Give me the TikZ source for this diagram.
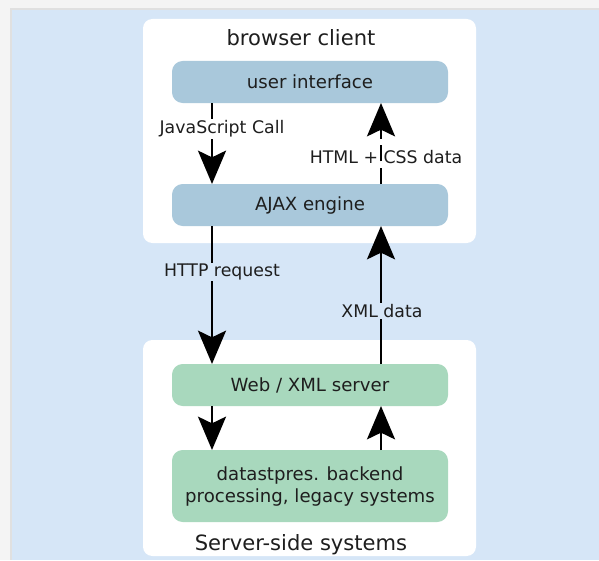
\documentclass[tikz,border=0pt]{standalone}
\usepackage{fontspec}
\setmainfont{DejaVu Sans}
\usetikzlibrary{arrows.meta,positioning}

\definecolor{pagegray}{HTML}{F4F4F4}
\definecolor{panelblue}{HTML}{D6E6F7}
\definecolor{clientbox}{HTML}{A9C8DB}
\definecolor{serverbox}{HTML}{A8D8BD}
\definecolor{ink}{HTML}{1E1E1E}

\tikzset{
  group/.style={fill=white, rounded corners=7pt, draw=none},
  layer/.style={rounded corners=8pt, draw=none, minimum width=207pt, text=ink,
    font=\fontsize{13.6}{16.5}\selectfont, align=center},
  clientlayer/.style={layer, fill=clientbox, minimum height=31.5pt},
  serverlayer/.style={layer, fill=serverbox},
  grouptitle/.style={text=ink, font=\fontsize{15.8}{18}\selectfont},
  flowlabel/.style={text=ink, font=\fontsize{13}{15}\selectfont, inner sep=1pt},
  flow/.style={line width=1.9pt, -{Stealth[length=25pt, width=21pt, inset=5pt]}}
}

\begin{document}
\begin{tikzpicture}[x=0.75pt, y=-0.75pt]
  % page and panel
  \fill[pagegray] (0,0) rectangle (599,560);
  \fill[black!12] (10,8) rectangle (599,560);
  \fill[panelblue] (12,10) rectangle (599,560);
  \useasboundingbox (0,0) rectangle (599,560);

  % client and server groups
  \fill[group] (143,19) rectangle (476,243);
  \fill[group] (143,340) rectangle (476,556);
  \node[grouptitle] (clienttitle) at (301,38) {browser client};
  \node[grouptitle] (servertitle) at (301,545) {Server-side systems};

  % layers
  \node[clientlayer] (ui)   at (310,82)  {user interface};
  \node[clientlayer] (ajax) at (310,205) {AJAX engine};
  \node[serverlayer, minimum height=31.5pt] (web) at (310,385) {Web / XML server};
  \node[serverlayer, minimum height=54pt] (back) at (310,486)
    {datastpres. backend\\processing, legacy systems};

  % connector anchor points on the layers
  \coordinate (uiL)   at (212,103);
  \coordinate (uiR)   at (381,103);
  \coordinate (ajaxLt) at (212,184);
  \coordinate (ajaxRt) at (381,184);
  \coordinate (ajaxLb) at (212,226);
  \coordinate (ajaxRb) at (381,226);
  \coordinate (webLt) at (212,364);
  \coordinate (webRt) at (381,364);
  \coordinate (webLb) at (212,406);
  \coordinate (webRb) at (381,406);
  \coordinate (backL) at (212,450);
  \coordinate (backR) at (381,450);

  % flows
  \draw[flow] (uiL) -- (ajaxLt);
  \node[flowlabel, fill=white] (jslabel) at (222,129) {JavaScript Call};
  \draw[flow, dash pattern=on 12pt off 5pt] (ajaxRt) -- (uiR);
  \node[flowlabel] (htmllabel) at (386,157) {HTML + CSS data};

  \draw[flow] (ajaxLb) -- (webLt);
  \node[flowlabel, fill=panelblue] (httplabel) at (222,272) {HTTP request};
  \draw[flow] (webRt) -- (ajaxRb);
  \node[flowlabel, fill=panelblue] (xmllabel) at (382,311) {XML data};

  \draw[flow] (webLb) -- (backL);
  \draw[flow] (backR) -- (webRb);
\end{tikzpicture}
\end{document}
